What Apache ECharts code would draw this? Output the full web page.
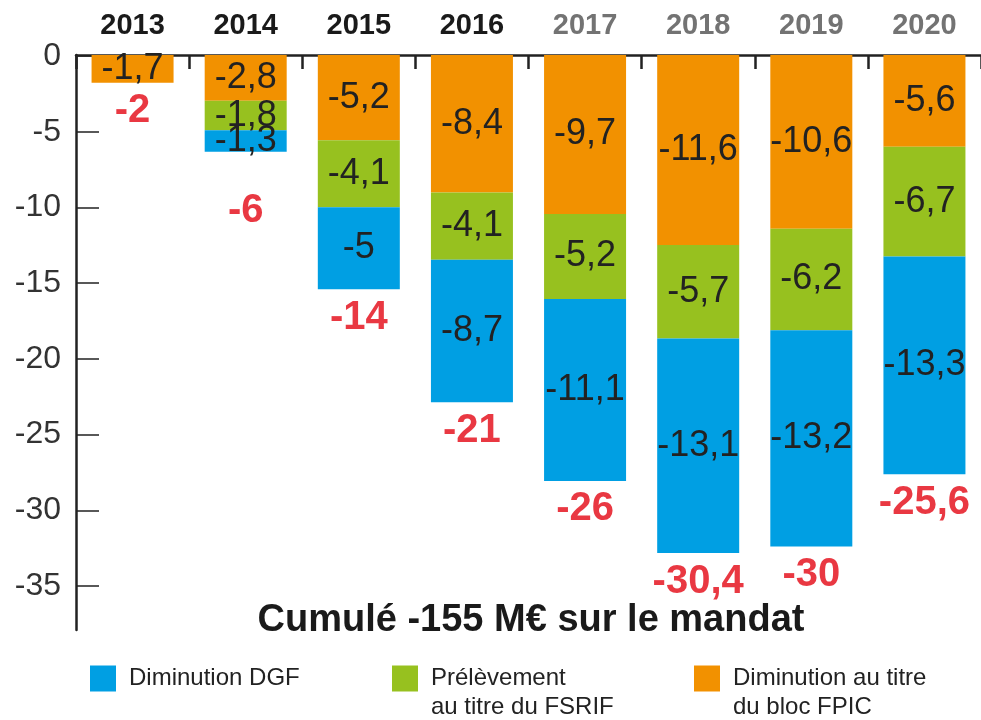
<!DOCTYPE html>
<html><head><meta charset="utf-8">
<script src="https://cdn.jsdelivr.net/npm/echarts@6/dist/echarts.min.js"></script>
<style>html,body{margin:0;padding:0;background:#fff}#c{width:981px;height:720px}</style>
</head><body><div id="c"></div>
<script>
const years = ['2013','2014','2015','2016','2017','2018','2019','2020'];
const fpic  = [-1.7, -2.8, -5.2, -8.4, -9.7, -11.6, -10.6, -5.6];
const fsrif = [null, -1.8, -4.1, -4.1, -5.2, -5.7, -6.2, -6.7];
const dgf   = [null, -1.3, -5, -8.7, -11.1, -13.1, -13.2, -13.3];
const totalLabels = ['-2','-6','-14','-21','-26','-30,4','-30','-25,6'];
const yearColors = ['#1a1a1a','#1a1a1a','#1a1a1a','#1a1a1a','#737373','#737373','#737373','#737373'];
const titleText = 'Cumulé -155 M€ sur le mandat';
const legendText = {
  'Diminution DGF': ['Diminution DGF', '\u00a0'],
  'Prélèvement au titre du FSRIF': ['Prélèvement', 'au titre du FSRIF'],
  'Diminution au titre du bloc FPIC': ['Diminution au titre', 'du bloc FPIC']
};

const FONT = 'Liberation Sans, Arial, sans-serif';
const RED = '#e30613';
const fmt = v => (v === null || v === undefined) ? '' : String(v).replace('.', ',');
const sums = years.map((_, i) => Math.round(((fpic[i]||0) + (fsrif[i]||0) + (dgf[i]||0)) * 10) / 10);

const innerLabel = {
  show: true, position: 'inside', fontSize: 36, color: '#222', fontFamily: FONT,
  formatter: p => fmt(p.value)
};
function barSeries(name, data, color) {
  return {
    name, type: 'bar', stack: 'total', data, barWidth: 82,
    xAxisIndex: 0, yAxisIndex: 0,
    itemStyle: { color }, label: innerLabel, emphasis: { disabled: true }
  };
}
function legendComp(name, left) {
  return {
    data: [name], left, top: 630, padding: 0, itemWidth: 26, itemHeight: 26,
    icon: 'rect', selectedMode: false,
    formatter: n => '\u00a0\n' + legendText[n].join('\n'),
    textStyle: { fontSize: 24, lineHeight: 29, color: '#222', fontFamily: FONT, padding: [10,0,0,8] }
  };
}

const chart = echarts.init(document.getElementById('c'), null, { renderer: 'canvas' });
chart.setOption({
  animation: false,
  backgroundColor: '#fff',
  grid: [
    { left: 76, top: 55, width: 909, height: 575, containLabel: false },
    { left: 76, top: 56, width: 909, height: 530, containLabel: false }
  ],
  xAxis: [
    {
      gridIndex: 0, type: 'category', data: years, position: 'top',
      axisLine: { show: true, lineStyle: { color: '#222', width: 2.5 } },
      axisTick: { show: true, inside: true, length: 14, lineStyle: { color: '#222', width: 2.5 } },
      axisLabel: {
        margin: 15, fontSize: 29, fontWeight: 'bold', fontFamily: FONT,
        color: (v, i) => yearColors[i],
        textBorderWidth: 0.8, textBorderColor: 'inherit'
      },
      splitLine: { show: false }
    },
    { gridIndex: 1, type: 'category', data: years, show: false }
  ],
  yAxis: [
    {
      gridIndex: 0, type: 'value', min: -35.1, max: 0,
      axisLine: { show: true, onZero: false, lineStyle: { color: '#222', width: 2.5 } },
      axisTick: { show: false }, axisLabel: { show: false }, splitLine: { show: false }
    },
    {
      gridIndex: 1, type: 'value', min: -35, max: 0, interval: 5,
      axisLine: { show: false },
      axisTick: { show: true, inside: true, length: 23, lineStyle: { color: '#222', width: 1.5 } },
      axisLabel: { margin: 15, fontSize: 32, color: '#333', fontFamily: FONT },
      splitLine: { show: false }
    }
  ],
  legend: [
    legendComp('Diminution DGF', 90),
    legendComp('Prélèvement au titre du FSRIF', 392),
    legendComp('Diminution au titre du bloc FPIC', 694)
  ],
  graphic: [{
    type: 'text', x: 531, y: 621, z: 10,
    style: { text: titleText, align: 'center', verticalAlign: 'middle',
      fontSize: 38, fontWeight: 'bold', fontFamily: FONT, fill: '#1a1a1a' }
  }],
  series: [
    barSeries('Diminution au titre du bloc FPIC', fpic, '#f29100'),
    barSeries('Prélèvement au titre du FSRIF', fsrif, '#97c11f'),
    barSeries('Diminution DGF', dgf, '#009fe3'),
    {
      type: 'scatter', xAxisIndex: 0, yAxisIndex: 0, symbolSize: 1,
      itemStyle: { color: 'rgba(0,0,0,0)' }, z: 5, silent: true,
      data: sums.map((s, i) => i === 1 ? { value: s, label: { offset: [0, 31] } } : s),
      label: {
        show: true, position: 'bottom', distance: 8, fontSize: 40, fontWeight: 'bold',
        color: RED, fontFamily: FONT, textBorderWidth: 0,
        formatter: p => totalLabels[p.dataIndex]
      }
    }
  ]
});
</script></body></html>
